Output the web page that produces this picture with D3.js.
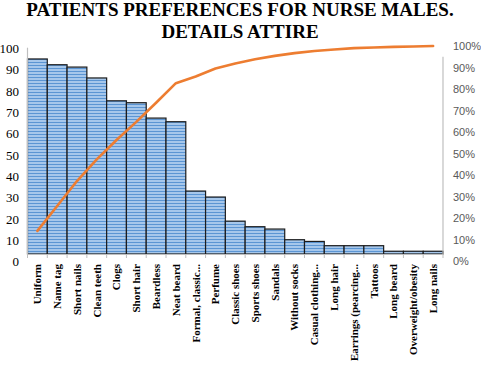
<!DOCTYPE html>
<html>
<head>
<meta charset="utf-8">
<script src="https://cdn.jsdelivr.net/npm/d3@7"></script>
<style>
  body { margin: 0; background: #fff; }
  svg { display: block; }
  .serif { font-family: "Liberation Serif", "DejaVu Serif", "Times New Roman", serif; }
  .sans { font-family: "Liberation Sans", Arial, sans-serif; }
</style>
</head>
<body>
<div id="chart"></div>
<script>
var titleLines = ["PATIENTS PREFERENCES FOR NURSE MALES.", "DETAILS ATTIRE"];

var categories = ["Uniform", "Name tag", "Short nails", "Clean teeth", "Clogs", "Short hair",
  "Beardless", "Neat beard", "Formal, classic...", "Perfume", "Classic shoes", "Sports shoes",
  "Sandals", "Without socks", "Casual clothing...", "Long hair", "Earrings (pearcing...",
  "Tattoos", "Long beard", "Overweight/obesity", "Long nails"];

var counts = [95, 92.3, 91.2, 86.1, 75.4, 74.5, 67.3, 65.6, 33.1, 30.3, 19, 16.4,
  15.3, 10.3, 9.5, 7.5, 7.5, 7.5, 4.9, 4.9, 4.9];

// cumulative %
var cumPct = [14.0, 25.6, 37.2, 47.3, 56.3, 64.7, 73.6, 82.7, 85.8, 89.5, 91.9, 93.8,
  95.4, 96.7, 97.7, 98.4, 99.0, 99.3, 99.6, 99.8, 100];

var leftTicks = [0, 10, 20, 30, 40, 50, 60, 70, 80, 90, 100];
var rightTicks = [0, 10, 20, 30, 40, 50, 60, 70, 80, 90, 100];

var width = 481, height = 371;
var left = 27.5, right = 443, baseY = 254;

var svg = d3.select("#chart").append("svg").attr("width", width).attr("height", height);

var defs = svg.append("defs");
var pat = defs.append("pattern").attr("id", "stripes")
  .attr("patternUnits", "userSpaceOnUse").attr("width", 8).attr("height", 3);
pat.append("rect").attr("width", 8).attr("height", 3).attr("fill", "#a6c7eb");
pat.append("rect").attr("y", 2).attr("width", 8).attr("height", 1).attr("fill", "#5b95d3");

var x = d3.scaleBand().domain(categories).range([left, right]).padding(0);
var y = d3.scaleLinear().domain([0, 100]).range([261.7, 48.3]);
var yPct = d3.scaleLinear().domain([0, 100]).range([261, 46]);

// title
svg.append("g").selectAll("text").data(titleLines).enter().append("text")
  .attr("class", "serif")
  .attr("x", 240).attr("y", function(d, i){ return 16 + i * 22; })
  .attr("text-anchor", "middle")
  .attr("font-weight", "bold").attr("font-size", "19px").attr("fill", "#000")
  .text(function(d){ return d; });

// bars
svg.append("g").selectAll("rect").data(counts).enter().append("rect")
  .attr("x", function(d, i){ return x(categories[i]); })
  .attr("y", function(d){ return y(d); })
  .attr("width", x.bandwidth())
  .attr("height", function(d){ return baseY - y(d); })
  .attr("fill", "url(#stripes)")
  .attr("stroke", "#1c1c1c").attr("stroke-width", 1.2);

// axis lines
svg.append("line").attr("x1", left).attr("x2", left).attr("y1", 47.7).attr("y2", baseY)
  .attr("stroke", "#bfbfbf").attr("stroke-width", 1.2);
svg.append("line").attr("x1", right).attr("x2", right).attr("y1", 56.7).attr("y2", baseY)
  .attr("stroke", "#bfbfbf").attr("stroke-width", 1.2);

var xAxis = svg.append("g").attr("transform", "translate(0," + baseY + ")")
  .call(d3.axisBottom(x).tickSize(0).tickFormat(""));
xAxis.select(".domain").attr("stroke", "#bfbfbf").attr("stroke-width", 1.2);
xAxis.selectAll(".tick").remove();
xAxis.selectAll(".sep").data(d3.range(categories.length + 1)).enter().append("line")
  .attr("class", "sep")
  .attr("x1", function(i){ return left + i * x.step(); })
  .attr("x2", function(i){ return left + i * x.step(); })
  .attr("y1", 0).attr("y2", 4)
  .attr("stroke", "#bfbfbf");

// category labels
svg.append("g").selectAll("text").data(categories).enter().append("text")
  .attr("class", "serif")
  .attr("transform", function(d){ return "translate(" + (x(d) + x.bandwidth() / 2) + ",264) rotate(-90)"; })
  .attr("text-anchor", "end").attr("dy", "0.35em")
  .attr("font-weight", "bold").attr("font-size", "11px").attr("fill", "#000")
  .text(function(d){ return d; });

// left tick labels
var yAxis = svg.append("g").attr("transform", "translate(" + left + ",0)")
  .call(d3.axisLeft(y).tickValues(leftTicks).tickSize(0).tickPadding(8.5));
yAxis.attr("font-family", null);
yAxis.select(".domain").remove();
yAxis.selectAll("text").attr("class", "serif")
  .attr("font-size", "13px").attr("fill", "#000");

// right tick labels
var pAxis = svg.append("g").attr("transform", "translate(" + right + ",0)")
  .call(d3.axisRight(yPct).tickValues(rightTicks).tickSize(0).tickPadding(10)
    .tickFormat(function(d){ return d + "%"; }));
pAxis.attr("font-family", null);
pAxis.select(".domain").remove();
pAxis.selectAll("text").attr("class", "sans")
  .attr("font-size", "11px").attr("fill", "#595959");

// cumulative line
var line = d3.line()
  .x(function(d, i){ return x(categories[i]) + x.bandwidth() / 2; })
  .y(function(d){ return yPct(d); });

svg.append("path").datum(cumPct)
  .attr("d", line)
  .attr("fill", "none")
  .attr("stroke", "#ed7d31").attr("stroke-width", 2.6)
  .attr("stroke-linejoin", "round").attr("stroke-linecap", "round");
</script>
</body>
</html>
